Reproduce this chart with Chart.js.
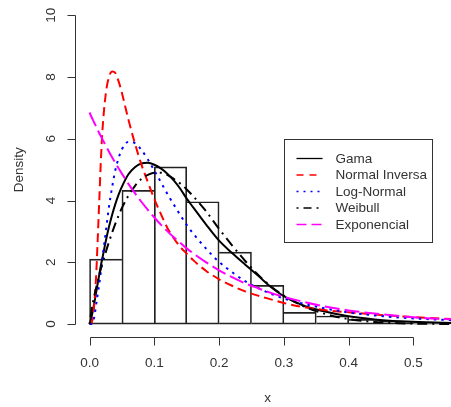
<!DOCTYPE html>
<html>
<head>
<meta charset="utf-8">
<script src="https://cdn.jsdelivr.net/npm/chart.js@4.4.1/dist/chart.umd.min.js"></script>
<style>
  html, body { margin: 0; padding: 0; background: #fff; overflow: hidden; }
  #wrap { position: relative; width: 451px; height: 407px; }
</style>
</head>
<body>
<div id="wrap"><canvas id="myChart"></canvas></div>
<script>
// histogram: bin centres (width 0.05) and densities
var binMids = [0.025, 0.075, 0.125, 0.175, 0.225, 0.275, 0.325, 0.375, 0.425, 0.475, 0.525];
var density = [2.1, 4.33, 5.09, 3.96, 2.33, 1.25, 0.38, 0.26, 0.15, 0.10, 0.05];

// x grid for the fitted density curves
var xs = [0, 0.0025, 0.005, 0.0075, 0.01, 0.0125, 0.015, 0.0175, 0.02, 0.025, 0.03, 0.035, 0.04, 0.045,
          0.05, 0.06, 0.07, 0.08, 0.09, 0.10, 0.11, 0.12, 0.13, 0.14, 0.15, 0.16, 0.18, 0.20, 0.22, 0.24,
          0.26, 0.28, 0.30, 0.33, 0.36, 0.40, 0.44, 0.48, 0.52, 0.56];

var gama = [0, 0.17, 0.42, 0.7, 1.0, 1.3, 1.6, 1.9, 2.15, 2.68, 3.15, 3.55, 3.9, 4.2,
            4.45, 4.85, 5.08, 5.2, 5.22, 5.16, 5.04, 4.87, 4.65, 4.38, 4.06, 3.78, 3.22, 2.7, 2.3, 1.93,
            1.57, 1.2, 0.9, 0.6, 0.42, 0.25, 0.15, 0.09, 0.055, 0.035];
var normalInversa = [0, 0, 0.2, 0.7, 1.5, 2.7, 4.0, 5.3, 6.3, 7.45, 8.0, 8.18, 8.12, 7.85,
            7.48, 6.62, 5.85, 5.17, 4.6, 4.05, 3.57, 3.12, 2.78, 2.5, 2.28, 2.07, 1.72, 1.45, 1.24, 1.06,
            0.92, 0.8, 0.68, 0.55, 0.46, 0.38, 0.31, 0.25, 0.2, 0.16];
var logNormal = [0, 0, 0.04, 0.25, 0.6, 0.95, 1.3, 1.7, 2.15, 2.97, 3.8, 4.45, 5.0, 5.38,
            5.66, 5.9, 5.86, 5.64, 5.33, 4.97, 4.6, 4.22, 3.87, 3.53, 3.21, 2.93, 2.44, 2.01, 1.68, 1.39,
            1.17, 0.98, 0.83, 0.66, 0.52, 0.375, 0.28, 0.21, 0.16, 0.125];
var weibull = [0, 0.38, 0.67, 0.93, 1.16, 1.38, 1.59, 1.79, 1.97, 2.33, 2.66, 2.97, 3.26, 3.52,
            3.76, 4.16, 4.47, 4.7, 4.83, 4.9, 4.9, 4.83, 4.7, 4.55, 4.36, 4.14, 3.65, 3.08, 2.55, 2.05,
            1.6, 1.22, 0.92, 0.58, 0.35, 0.16, 0.065, 0.025, 0.009, 0.003];
var exponencial = [6.85, 6.73, 6.62, 6.51, 6.4, 6.29, 6.18, 6.08, 5.98, 5.78, 5.58, 5.39, 5.21, 5.04,
            4.87, 4.54, 4.24, 3.96, 3.7, 3.45, 3.22, 3.01, 2.81, 2.63, 2.45, 2.29, 2.0, 1.74, 1.52, 1.32,
            1.16, 1.01, 0.88, 0.72, 0.58, 0.44, 0.34, 0.26, 0.19, 0.15];

var xTicks = [0, 0.1, 0.2, 0.3, 0.4, 0.5];
var xTickLabels = ['0.0', '0.1', '0.2', '0.3', '0.4', '0.5'];
var yTicks = [0, 2, 4, 6, 8, 10];
var yTickLabels = ['0', '2', '4', '6', '8', '10'];

var FONT = '13.5px "Liberation Sans", Arial, sans-serif';
var INK = '#333';

function points(ys) {
  return xs.map(function (x, i) { return { x: x, y: ys[i] }; });
}

function curve(label, ys, color, dash, legendDash, order) {
  return {
    type: 'line',
    label: label,
    data: points(ys),
    borderColor: color,
    borderWidth: 2,
    borderDash: dash,
    legendDash: legendDash,
    pointRadius: 0,
    fill: false,
    cubicInterpolationMode: 'monotone',
    order: order
  };
}

// each shared edge between two bins is drawn once, by the taller bin
function binBorder(c) {
  var i = c.dataIndex, n = density.length;
  var prev = i > 0 ? density[i - 1] : 0;
  var next = i < n - 1 ? density[i + 1] : 0;
  return {
    top: 1,
    bottom: 1,
    left: density[i] >= prev ? 1 : 0,
    right: density[i] > next ? 1 : 0
  };
}

// R style axes: line only from first to last tick, rotated y labels
var rAxes = {
  id: 'rAxes',
  afterDraw: function (chart) {
    var ctx = chart.ctx, sx = chart.scales.x, sy = chart.scales.y, area = chart.chartArea;
    ctx.save();
    ctx.strokeStyle = INK;
    ctx.fillStyle = INK;
    ctx.lineWidth = 1;
    ctx.font = FONT;
    ctx.textAlign = 'center';
    ctx.textBaseline = 'middle';

    var ax = Math.round(area.left) + 0.5;
    ctx.beginPath();
    ctx.moveTo(ax, Math.round(sy.getPixelForValue(yTicks[0])) + 0.5);
    ctx.lineTo(ax, Math.round(sy.getPixelForValue(yTicks[yTicks.length - 1])) + 0.5);
    yTicks.forEach(function (v) {
      var py = Math.round(sy.getPixelForValue(v)) + 0.5;
      ctx.moveTo(ax, py);
      ctx.lineTo(ax - 8, py);
    });
    ctx.stroke();
    yTicks.forEach(function (v, i) {
      ctx.save();
      ctx.translate(ax - 24, sy.getPixelForValue(v));
      ctx.rotate(-Math.PI / 2);
      ctx.fillText(yTickLabels[i], 0, 0);
      ctx.restore();
    });

    var ay = Math.round(area.bottom) + 1.5;
    ctx.beginPath();
    ctx.moveTo(Math.round(sx.getPixelForValue(xTicks[0])) + 0.5, ay);
    ctx.lineTo(Math.round(sx.getPixelForValue(xTicks[xTicks.length - 1])) + 0.5, ay);
    xTicks.forEach(function (v) {
      var px = Math.round(sx.getPixelForValue(v)) + 0.5;
      ctx.moveTo(px, ay);
      ctx.lineTo(px, ay + 8);
    });
    ctx.stroke();
    xTicks.forEach(function (v, i) {
      ctx.fillText(xTickLabels[i], sx.getPixelForValue(v), ay + 26);
    });

    // axis titles
    ctx.fillText('x', sx.getPixelForValue(0.275), ay + 60.5);
    ctx.save();
    ctx.translate(19, sy.getPixelForValue(5));
    ctx.rotate(-Math.PI / 2);
    ctx.fillText('Density', 0, 0);
    ctx.restore();
    ctx.restore();
  }
};

// boxed legend anchored at (0.3, 6) in data units
var boxLegend = {
  id: 'boxLegend',
  afterDraw: function (chart) {
    var ctx = chart.ctx, sx = chart.scales.x, sy = chart.scales.y;
    var left = Math.round(sx.getPixelForValue(0.3)) + 0.5;
    var top = Math.round(sy.getPixelForValue(6)) + 0.5;
    var items = chart.data.datasets.filter(function (d) { return d.type === 'line'; });
    ctx.save();
    ctx.fillStyle = '#fff';
    ctx.fillRect(left, top, 148, 103);
    ctx.strokeStyle = INK;
    ctx.lineWidth = 1;
    ctx.strokeRect(left, top, 148, 103);
    ctx.font = FONT;
    ctx.textBaseline = 'middle';
    ctx.textAlign = 'left';
    items.forEach(function (d, i) {
      var y = top + 19 + i * 16.5;
      ctx.beginPath();
      ctx.setLineDash(d.legendDash);
      ctx.strokeStyle = d.borderColor;
      ctx.lineWidth = 1.3;
      ctx.moveTo(left + 12, y);
      ctx.lineTo(left + 38, y);
      ctx.stroke();
      ctx.setLineDash([]);
      ctx.fillStyle = INK;
      ctx.fillText(d.label, left + 51, y + 0.5);
    });
    ctx.restore();
  }
};

function drawChart() {
  var ctx = document.getElementById('myChart').getContext('2d');
  var chart = new Chart(ctx, {
    type: 'line',
    data: {
      datasets: [
        {
          type: 'bar',
          label: 'hist',
          data: binMids.map(function (x, i) { return { x: x, y: density[i] }; }),
          backgroundColor: 'rgba(0,0,0,0)',
          borderColor: '#222',
          borderSkipped: false,
          borderWidth: binBorder,
          barPercentage: 1,
          categoryPercentage: 1,
          order: 10
        },
        curve('Gama', gama, '#000000', [], [], 5),
        curve('Normal Inversa', normalInversa, '#ff0000', [9, 5], [7, 6], 4),
        curve('Log-Normal', logNormal, '#0000ff', [2.5, 5], [2, 5], 3),
        curve('Weibull', weibull, '#000000', [2, 5, 10, 5], [2, 5, 8, 5], 2),
        curve('Exponencial', exponencial, '#ff00ff', [15, 5], [10, 5], 1)
      ]
    },
    options: {
      responsive: true,
      maintainAspectRatio: false,
      animation: false,
      devicePixelRatio: 1,
      layout: { padding: { left: 75.3, right: 0, top: 2.9, bottom: 70.6 } },
      scales: {
        x: { type: 'linear', min: -0.022, max: 0.558, offset: false, display: false },
        y: { type: 'linear', min: -0.4, max: 10.4, display: false }
      },
      plugins: {
        legend: { display: false },
        tooltip: { enabled: false }
      }
    },
    plugins: [rAxes, boxLegend]
  });
}

drawChart();
</script>
</body>
</html>
